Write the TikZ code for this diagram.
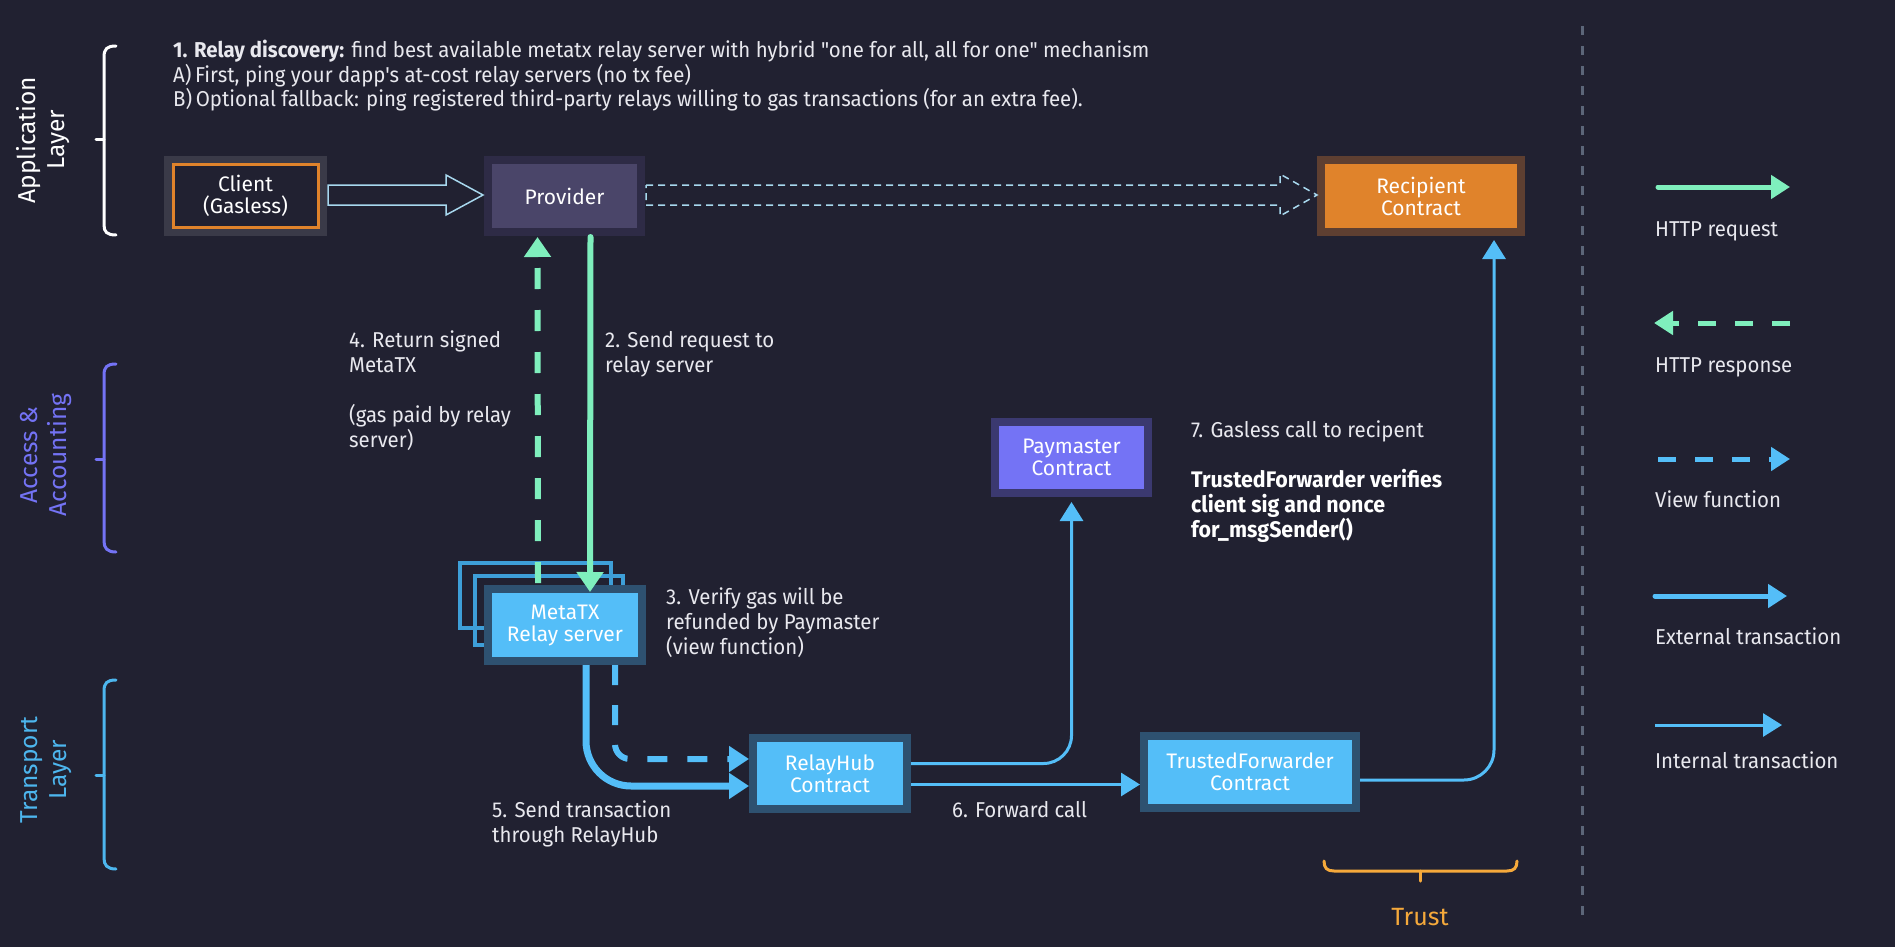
\documentclass[tikz,border=0pt]{standalone}
\usepackage{fontspec}
\setmainfont{Fira Sans}[FakeStretch=0.95, Ligatures=TeXOff]
\newfontfamily\nodefont{Fira Sans}
\usetikzlibrary{arrows.meta,calc}
\definecolor{bg}{HTML}{212131}
\definecolor{txt}{HTML}{E8E8EE}
\definecolor{mint}{HTML}{7FEFBD}
\definecolor{sky}{HTML}{54BEF8}
\definecolor{skyborder}{HTML}{2E5170}
\definecolor{skyoutline}{HTML}{3E9FD8}
\definecolor{purp}{HTML}{7473F5}
\definecolor{purpborder}{HTML}{3B3970}
\definecolor{provfill}{HTML}{4A4569}
\definecolor{provborder}{HTML}{2E2B46}
\definecolor{orangefill}{HTML}{E0832B}
\definecolor{orangeborder}{HTML}{5E3F31}
\definecolor{clientborder}{HTML}{3A3A48}
\definecolor{hol}{HTML}{A8D8EE}
\definecolor{sep}{HTML}{5C6679}
\definecolor{trustc}{HTML}{F5A93B}
\definecolor{transc}{HTML}{4DB6EE}
\begin{document}
\begin{tikzpicture}[x=1pt,y=-1pt,
  box/.style={line width=8pt, inner sep=0pt, align=center, text=white,
    font=\nodefont\fontsize{21}{22}\selectfont},
  lbl/.style={anchor=base west, align=left, text=txt, inner sep=0pt,
    font=\fontsize{21.5}{25}\selectfont},
  layerlbl/.style={rotate=90, align=center, inner sep=0pt,
    font=\nodefont\fontsize{24.5}{29}\selectfont},
  bracec/.style={line width=3pt, line cap=round},
  hollow/.style={draw=hol, line width=1.5pt, line join=miter},
  req/.style={draw=mint, line width=6pt, line cap=round, -{Triangle[length=20pt,width=26pt]}},
  resp/.style={draw=mint, line width=6pt, dash pattern=on 21pt off 21pt, -{Triangle[length=20pt,width=26pt]}},
  ext/.style={draw=sky, line width=7pt, -{Triangle[length=20pt,width=25pt]}},
  viewf/.style={draw=sky, line width=6pt, dash pattern=on 20pt off 20pt, -{Triangle[length=20pt,width=25pt]}},
  intl/.style={draw=sky, line width=3pt, -{Triangle[length=19pt,width=23pt]}},
  legreq/.style={draw=mint, line width=5pt, line cap=round, -{Triangle[length=19pt,width=23pt]}},
  legresp/.style={draw=mint, line width=5pt, dash pattern=on 18pt off 19pt, -{Triangle[length=19pt,width=23pt]}},
  legext/.style={draw=sky, line width=5pt, line cap=round, -{Triangle[length=19pt,width=23pt]}},
  legview/.style={draw=sky, line width=5pt, dash pattern=on 18pt off 19pt, -{Triangle[length=19pt,width=23pt]}},
  legint/.style={draw=sky, line width=3pt, -{Triangle[length=19pt,width=23pt]}},
]
\useasboundingbox (0,0) rectangle (1895,947);
\fill[bg] (0,0) rectangle (1895,947);

% separator
\draw[sep, line width=3pt, dash pattern=on 9pt off 11pt] (1582,26) -- (1582,925);

% layer braces
\draw[bracec, white] (116,46) .. controls (107,46) and (104,49) .. (104,57) -- (104,225) .. controls (104,232) and (107,235) .. (116,235);
\draw[bracec, white] (104,140) -- (96,140);
\draw[bracec, purp] (116,364) .. controls (107,364) and (104,367) .. (104,375) -- (104,541) .. controls (104,548) and (107,552) .. (116,552);
\draw[bracec, purp] (104,459) -- (96,459);
\draw[bracec, transc] (116,680) .. controls (107,680) and (104,683) .. (104,691) -- (104,858) .. controls (104,865) and (107,869) .. (116,869);
\draw[bracec, transc] (104,775) -- (96,775);

\node[layerlbl, text=white] (applbl) at (43,140) {Application\\Layer};
\node[layerlbl, text=purp] (acclbl) at (46,455) {Access \&\\Accounting};
\node[layerlbl, text=transc] (trlbl) at (46,770) {Transport\\Layer};

% trust brace
\draw[bracec, trustc] (1324,861) .. controls (1324,868) and (1327,871) .. (1334,871) -- (1507,871) .. controls (1514,871) and (1517,868) .. (1517,861);
\draw[bracec, trustc] (1420,871) -- (1420,881);
\node[text=trustc, font=\nodefont\fontsize{25}{28}\selectfont, inner sep=0pt] (trust) at (1420,917) {Trust};

% header
\node[lbl] (h1) at (173,58) {\textbf{1. Relay discovery:} find best available metatx relay server with hybrid "one for all, all for one" mechanism};
\node[lbl] (h2) at (173,83) {A)\,First, ping your dapp's at-cost relay servers (no tx fee)};
\node[lbl] (h3) at (173,107) {B)\,Optional fallback: ping registered third-party relays willing to gas transactions (for an extra fee).};

% nodes
\node[box, draw=clientborder, fill=bg, minimum width=155pt, minimum height=72pt] (client) at (245.5,196) {Client\\(Gasless)};
\draw[orangefill, line width=3pt] ($(client.north west)+(9.5,8.5)$) rectangle ($(client.south east)+(-8.5,-8.5)$);
\node[box, draw=provborder, fill=provfill, minimum width=153pt, minimum height=72pt] (provider) at (564.5,196) {Provider};
\node[box, draw=orangeborder, fill=orangefill, minimum width=200pt, minimum height=72pt] (recipient) at (1421,196) {Recipient\\Contract};
\node[box, draw=purpborder, fill=purp, minimum width=153pt, minimum height=71pt] (paymaster) at (1071.5,457.5) {Paymaster\\Contract};

\draw[skyoutline, line width=4pt] (460,563) rectangle (611,628);
\draw[skyoutline, line width=4pt] (475,576) rectangle (623,645);
\node[box, draw=skyborder, fill=sky, minimum width=154pt, minimum height=72pt] (relay) at (565,625) {MetaTX\\Relay server};
\node[box, draw=skyborder, fill=sky, minimum width=154pt, minimum height=71pt] (relayhub) at (830,773.5) {RelayHub\\Contract};
\node[box, draw=skyborder, fill=sky, minimum width=212pt, minimum height=72pt] (tf) at (1250,772) {TrustedForwarder\\Contract};

% hollow arrows
\draw[hollow] ($(client.east)+(1,-11)$) -- ($(provider.west)+(-38,-11)$) -- ($(provider.west)+(-38,-21)$) -- ($(provider.west)+(-1,-1)$) -- ($(provider.west)+(-38,19)$) -- ($(provider.west)+(-38,9)$) -- ($(client.east)+(1,9)$) -- cycle;
\draw[hollow, dash pattern=on 7pt off 5pt] ($(provider.east)+(1,-11)$) -- ($(recipient.west)+(-37,-11)$) -- ($(recipient.west)+(-37,-22)$) -- ($(recipient.west)+(0,-1)$) -- ($(recipient.west)+(-37,20)$) -- ($(recipient.west)+(-37,9)$) -- ($(provider.east)+(1,9)$) -- cycle;

% http
\draw[req] ($(provider.south)+(26,1)$) -- ($(relay.north)+(25,7)$);
\draw[resp] ($(relay.north)+(-27,-2)$) -- ($(provider.south)+(-27,1)$);

% transactions
\draw[ext, rounded corners=45pt] ($(relay.south)+(21,0)$) |- ($(relayhub.west)+(0,12.5)$);
\draw[viewf, rounded corners=15pt] ($(relay.south)+(50,0)$) |- ($(relayhub.west)+(0,-14.5)$);
\draw[intl, rounded corners=28pt] ($(relayhub.east)+(0,-10)$) -| ($(paymaster.south)+(0,5)$);
\draw[intl] ($(relayhub.east)+(0,11)$) -- ($(tf.west)+(0,12.5)$);
\draw[intl, rounded corners=30pt] ($(tf.east)+(0,8)$) -| ($(recipient.south)+(73,4)$);

% labels (base = baseline of last line)
\node[lbl] (l4) at (349,447) {4. Return signed\\MetaTX\\[25pt](gas paid by relay\\server)};
\node[lbl] (l2) at (605,372) {2. Send request to\\relay server};
\node[lbl] (l3) at (666,654) {3. Verify gas will be\\refunded by Paymaster\\(view function)};
\node[lbl] (l5) at (492,842) {5. Send transaction\\through RelayHub};
\node[lbl] (l6) at (952,817) {6. Forward call};
\node[lbl] (l7) at (1191,437) {7. Gasless call to recipent};
\node[lbl, font=\bfseries\fontsize{22.5}{25}\selectfont, text=white] (l7b) at (1191,537) {TrustedForwarder verifies\\client sig and nonce\\for\_msgSender()};

% legend
\coordinate (a1) at (1658,187); \coordinate (b1) at (1790,187);
\coordinate (a2) at (1790,323); \coordinate (b2) at (1654,323);
\coordinate (a3) at (1658,459); \coordinate (b3) at (1790,459);
\coordinate (a4) at (1655,596); \coordinate (b4) at (1787,596);
\coordinate (a5) at (1655,725); \coordinate (b5) at (1782,725);
\draw[legreq] (a1) -- (b1);
\draw[legresp] (a2) -- (b2);
\draw[legview] (a3) -- (b3);
\draw[legext] (a4) -- (b4);
\draw[legint] (a5) -- (b5);
\node[lbl] (t1) at (1655,236) {HTTP request};
\node[lbl] (t2) at (1655,372) {HTTP response};
\node[lbl] (t3) at (1655,507) {View function};
\node[lbl] (t4) at (1655,644) {External transaction};
\node[lbl] (t5) at (1655,768) {Internal transaction};
\end{tikzpicture}
\end{document}
